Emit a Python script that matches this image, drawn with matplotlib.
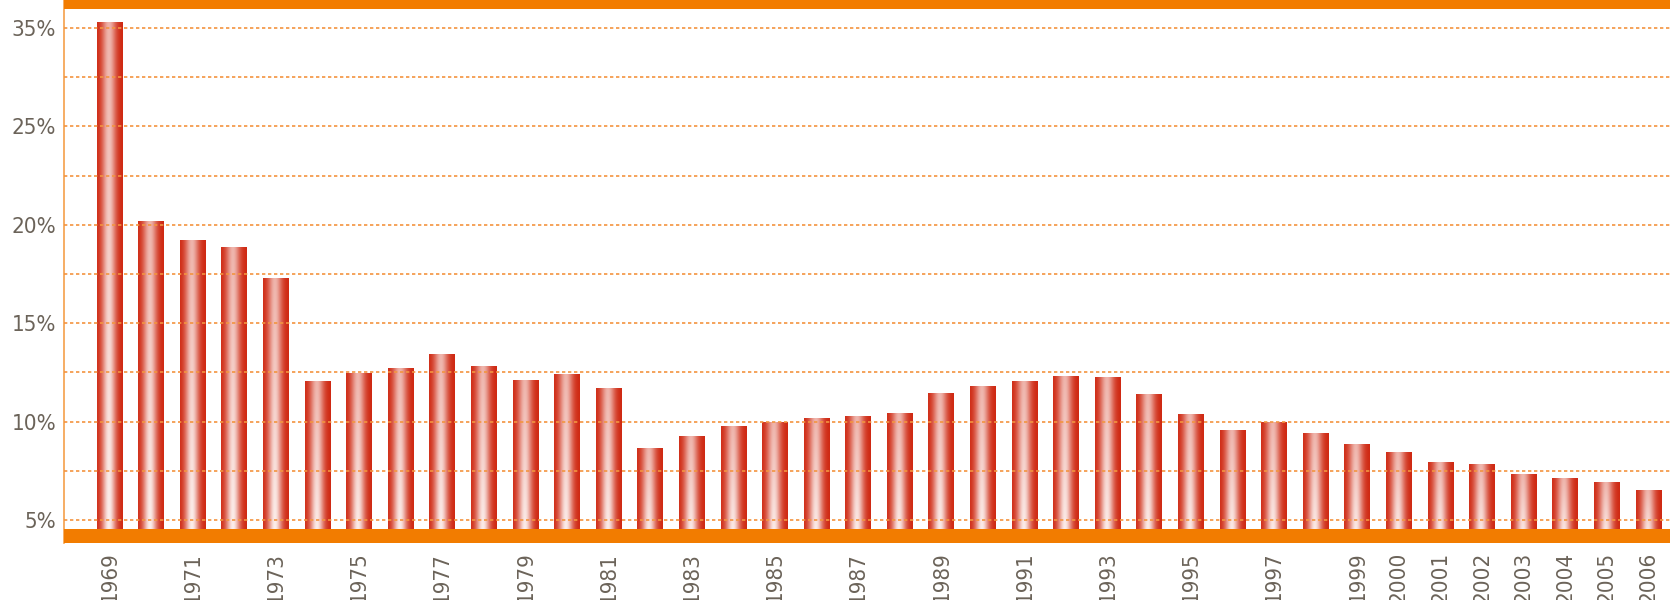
import numpy as np
import matplotlib
matplotlib.use('Agg')
import matplotlib.pyplot as plt

plt.rcParams['font.family'] = ['DejaVu Sans']
plt.rcParams['font.stretch'] = 'condensed'

years = list(range(1969, 2007))
values = [30.30, 20.19, 19.23, 18.87, 17.28, 12.06, 12.47, 12.72, 13.43, 12.83,
          12.11, 12.42, 11.71, 8.66, 9.27, 9.78, 9.98, 10.18, 10.28, 10.44,
          11.45, 11.81, 12.06, 12.32, 12.27, 11.40, 10.39, 9.57, 9.98, 9.42,
          8.86, 8.46, 7.95, 7.85, 7.34, 7.13, 6.93, 6.52]
tick_years = [1969, 1971, 1973, 1975, 1977, 1979, 1981, 1983, 1985, 1987,
              1989, 1991, 1993, 1995, 1997, 1999, 2000, 2001, 2002, 2003,
              2004, 2005, 2006]
ytick_vals = [5, 10, 15, 20, 25, 30]
ytick_labels = ['5%', '10%', '15%', '20%', '25%', '35%']

orange = '#f27c00'
text_col = '#6b6359'
ymin, ymax = 3.85, 31.42

fig = plt.figure(figsize=(16.7, 6), dpi=100)
ax = fig.add_axes([64 / 1670, 0.0955, 1 - 64 / 1670, 0.9045])

x = np.arange(len(years))
bars = ax.bar(x, np.array(values) - ymin, bottom=ymin, width=0.62,
              facecolor='none', edgecolor='none')

# gradient used to fill every bar
t = np.linspace(0, 1, 60)
v = np.linspace(0, 1, 100)[:, None]
light = np.exp(-((t - 0.46) / 0.27) ** 2)[None, :] * (1 - 0.3 * v)
red = np.array([0.81, 0.15, 0.06])
white = np.array([0.99, 0.95, 0.94])
grad = red * (1 - light[..., None]) + white * light[..., None]

for b in bars:
    bx, by, bw, bh = b.get_x(), b.get_y(), b.get_width(), b.get_height()
    ax.imshow(grad, extent=[bx, bx + bw, by, by + bh], origin='lower',
              aspect='auto', interpolation='bicubic', zorder=2)

for g in np.arange(5, 31, 2.5):
    ax.axhline(g, color='#f39440', lw=1.2, linestyle=(0, (2, 1.6)), zorder=3)

ax.axhspan(ymin, 4.54, color=orange, zorder=4, lw=0)
ax.axhspan(30.96, ymax, color=orange, zorder=4, lw=0)

ax.set_xlim(-1.094, 37.517)
ax.set_ylim(ymin, ymax)

ax.set_yticks(ytick_vals)
ax.set_yticklabels(ytick_labels)
ax.set_xticks([years.index(yr) for yr in tick_years])
ax.set_xticklabels([str(yr) for yr in tick_years], rotation=90, va='top')

ax.tick_params(axis='y', length=0, pad=5.5, labelsize=16, labelcolor=text_col)
ax.tick_params(axis='x', length=0, pad=6.5, labelsize=16, labelcolor=text_col)

for s in ['top', 'right', 'bottom']:
    ax.spines[s].set_visible(False)
ax.spines['left'].set_color('#f5a04a')
ax.spines['left'].set_linewidth(1.2)

fig.savefig('out.png', dpi=100)
